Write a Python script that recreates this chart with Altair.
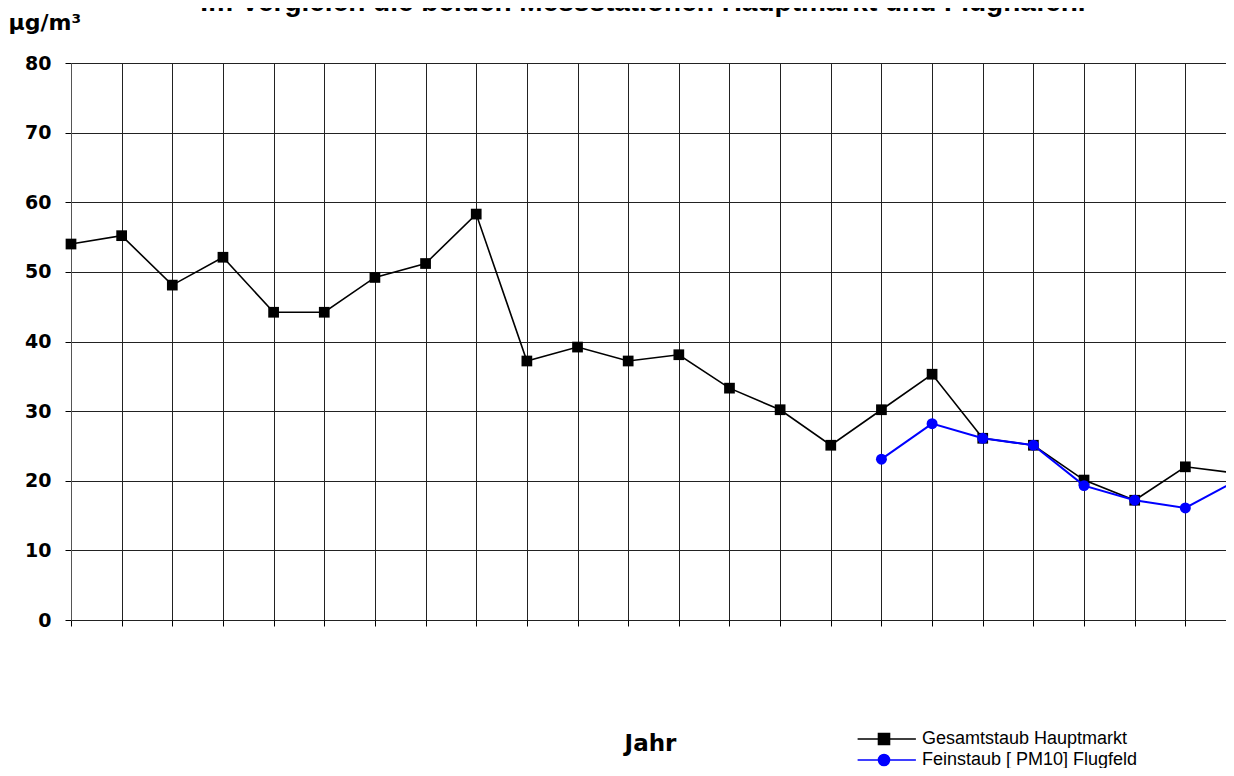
import altair as alt
import pandas as pd

# ---- data ----
jahre = list(range(1, 25))  # 24 measurement years (positions on the x axis)
gesamtstaub = [54.0, 55.2, 48.1, 52.1, 44.2, 44.2, 49.2, 51.2, 58.3, 37.2, 39.2, 37.2,
               38.1, 33.3, 30.2, 25.1, 30.2, 35.3, 26.1, 25.1, 20.1, 17.2, 22.0, 21.1]
feinstaub_jahre = list(range(17, 25))
feinstaub = [23.1, 28.2, 26.1, 25.1, 19.3, 17.2, 16.1, 20.0]
serien = ["Gesamtstaub Hauptmarkt", "Feinstaub [ PM10] Flugfeld"]
farben = ["#000000", "#0000ff"]
y_ticks = [0, 10, 20, 30, 40, 50, 60, 70, 80]
titel = "Im Vergleich die beiden Messstationen Hauptmarkt und Flughafen."

rows = [{"Jahr": j, "Wert": v, "Serie": serien[0]} for j, v in zip(jahre, gesamtstaub)]
rows += [{"Jahr": j, "Wert": v, "Serie": serien[1]} for j, v in zip(feinstaub_jahre, feinstaub)]
df = pd.DataFrame(rows)

# legend symbols: a line stub with the marker in the middle
sq = "M-4.8,0H5.8M-1,-1H1V1H-1Z"
ci = "M-4.8,0H5.8M-1,0A1,1,0,1,1,1,0A1,1,0,1,1,-1,0Z"

legend = alt.Legend(
    orient="none", legendX=804, legendY=667, title=None, padding=0,
    labelFont="Liberation Sans", labelFontSize=18, labelColor="#000000", labelLimit=400,
    symbolSize=121, labelOffset=29, rowPadding=3, symbolStrokeWidth=1.6,
    symbolOpacity=1,
)

PLOT_W = 1155      # visible plot width (page is cut at the right edge)
RANGE_W = 1165     # full category spacing as in the reference

x_enc = alt.X(
    "Jahr:Q",
    scale=alt.Scale(domain=[1, 24], nice=False, zero=False, range=[0, RANGE_W]),
    axis=alt.Axis(values=jahre[:-1], labels=False, grid=True, gridColor="#222222", gridWidth=1,
                  tickSize=6, tickColor="#000000", domain=False,
                  title="Jahr", titleFont="DejaVu Sans", titleFontWeight="bold",
                  titleFontSize=23, titleColor="#000000", titleX=579, titleY=130,
                  titleBaseline="alphabetic"),
)
y_enc = alt.Y(
    "Wert:Q",
    scale=alt.Scale(domain=[0, 80], nice=False),
    axis=alt.Axis(values=y_ticks, grid=True, gridColor="#222222", gridWidth=1,
                  labelFont="DejaVu Sans", labelFontWeight="bold", labelFontSize=19,
                  labelColor="#000000", labelPadding=14, tickSize=6, tickColor="#000000",
                  domainColor="#555555",
                  title="µg/m³", titleAngle=0, titleX=-63, titleY=-34, titleAlign="left",
                  titleBaseline="alphabetic", titleFont="DejaVu Sans", titleFontWeight="bold",
                  titleFontSize=22, titleColor="#000000"),
)
color_enc = alt.Color("Serie:N", scale=alt.Scale(domain=serien, range=farben), legend=legend)

base = alt.Chart(df).encode(x=x_enc, y=y_enc, color=color_enc)

line_black = base.transform_filter(alt.datum.Serie == serien[0]).mark_line(strokeWidth=1.6)
pts_black = base.transform_filter(alt.datum.Serie == serien[0]).mark_point(
    shape="square", filled=True, size=115, opacity=1)
line_blue = base.transform_filter(alt.datum.Serie == serien[1]).mark_line(strokeWidth=2)
pts_blue = base.transform_filter(alt.datum.Serie == serien[1]).mark_point(
    shape="circle", filled=True, size=120, opacity=1)

# empty layer that only carries the shape scale for the legend symbols
legend_layer = base.transform_filter("false").mark_point(filled=True, size=121, opacity=1).encode(
    shape=alt.Shape("Serie:N", scale=alt.Scale(domain=serien, range=[sq, ci]), legend=legend)
)

title_layer = alt.Chart(pd.DataFrame({"t": [titel]})).mark_text(
    font="Liberation Sans", fontWeight="bold", fontSize=28, align="center",
    baseline="alphabetic", color="#000000"
).encode(x=alt.value(572), y=alt.value(-52), text="t:N")

chart = alt.layer(line_black, pts_black, line_blue, pts_blue, legend_layer, title_layer).properties(
    width=PLOT_W, height=557,
    autosize=alt.AutoSizeParams(type="none"),
    padding={"left": 63, "top": 55, "right": 0, "bottom": 148},
    background="#ffffff",
).configure_view(strokeWidth=0)

chart.save("out.html", embed_options={"renderer": "svg", "actions": False})
